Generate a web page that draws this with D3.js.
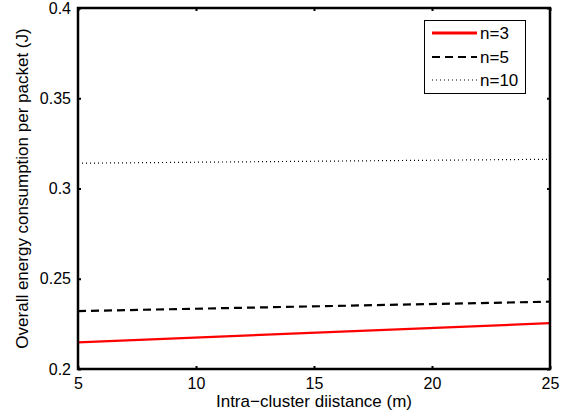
<!DOCTYPE html>
<html><head><meta charset="utf-8">
<script src="https://cdn.jsdelivr.net/npm/d3@7"></script>
<style>body{margin:0;background:#fff}svg{display:block}text{font-family:"Liberation Sans",Arial,sans-serif}</style>
</head><body><svg id="c" width="574" height="419"></svg>
<script>
const xDomain = [5, 25];
const yDomain = [0.2, 0.4];
const xTicks = [5, 10, 15, 20, 25];
const yTicks = [0.2, 0.25, 0.3, 0.35, 0.4];
const distance = [5, 25];
const n3 = [0.2148, 0.2254];
const n5 = [0.2321, 0.2373];
const n10 = [0.3140, 0.3162];
const seriesNames = ["n=3", "n=5", "n=10"];

const svg = d3.select("#c");
const m = {l: 78, t: 8, r: 550, b: 369};
const x = d3.scaleLinear().domain(xDomain).range([m.l, m.r]);
const y = d3.scaleLinear().domain(yDomain).range([m.b, m.t]);

const styles = [
  {data: n3, color: "#ff0000", w: 2.2, dash: null},
  {data: n5, color: "#000", w: 2.2, dash: "8,5"},
  {data: n10, color: "#000", w: 1.2, dash: "1,3"}
];
const line = d3.line().x((d,i)=>x(distance[i])).y(d=>y(d));
styles.forEach(s=>{
  svg.append("path").attr("d", line(s.data)).attr("fill","none")
    .attr("stroke", s.color).attr("stroke-width", s.w)
    .attr("stroke-dasharray", s.dash);
});

// axes
const fmt = d=>d3.format("")(+d.toFixed(2));
const gx = svg.append("g").attr("transform",`translate(0,${m.b})`)
  .call(d3.axisBottom(x).tickValues(xTicks).tickSize(-3).tickPadding(9).tickFormat(d3.format("d")));
const gxt = svg.append("g").attr("transform",`translate(0,${m.t})`)
  .call(d3.axisTop(x).tickValues(xTicks).tickSize(-3).tickFormat(""));
const gy = svg.append("g").attr("transform",`translate(${m.l},0)`)
  .call(d3.axisLeft(y).tickValues(yTicks).tickSize(-3).tickPadding(7).tickFormat(fmt));
const gyr = svg.append("g").attr("transform",`translate(${m.r},0)`)
  .call(d3.axisRight(y).tickValues(yTicks).tickSize(-3).tickFormat(""));
[gx,gxt,gy,gyr].forEach(g=>{
  g.select(".domain").remove();
  g.selectAll("line").attr("stroke","#000").attr("stroke-width",2);
  g.selectAll("text").attr("font-size",16).attr("fill","#000");
});
svg.append("rect").attr("x",m.l).attr("y",m.t).attr("width",m.r-m.l).attr("height",m.b-m.t)
  .attr("fill","none").attr("stroke","#000").attr("stroke-width",2.5);

svg.append("text").attr("x",(m.l+m.r)/2).attr("y",407).attr("text-anchor","middle")
  .attr("font-size",17).text("Intra\u2212cluster diistance (m)");
svg.append("text").attr("transform",`translate(28,${(m.t+m.b)/2}) rotate(-90)`).attr("text-anchor","middle")
  .attr("font-size",17).text("Overall energy consumption per packet (J)");

// legend
const lg = svg.append("g");
lg.append("rect").attr("x",424.5).attr("y",20.5).attr("width",101).attr("height",73)
  .attr("fill","#fff").attr("stroke","#000").attr("stroke-width",1);
const rows = [33, 57, 80];
styles.forEach((s,i)=>{
  lg.append("line").attr("x1",432).attr("x2",477).attr("y1",rows[i]).attr("y2",rows[i])
    .attr("stroke",s.color).attr("stroke-width", s.w + (i===0?0.8:0)).attr("stroke-dasharray", s.dash);
  lg.append("text").attr("x",480).attr("y",rows[i]+6).attr("font-size",17).text(seriesNames[i]);
});
</script></body></html>
